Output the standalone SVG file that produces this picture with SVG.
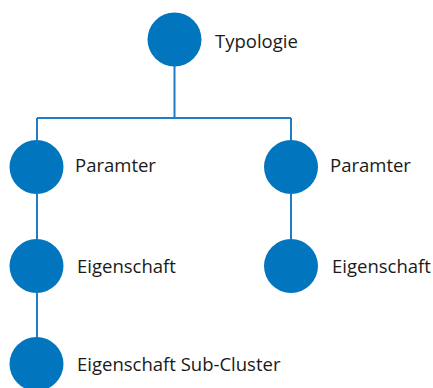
<svg xmlns="http://www.w3.org/2000/svg" width="433" height="388" viewBox="0 0 433 388">
<style>
.n{fill:#0275BF}
.t{font-family:"Open Sans","Liberation Sans",sans-serif;font-size:18.5px;fill:#1a1a1a}
.c{stroke:#1F7DC8;stroke-width:2;fill:none}
</style>
<rect width="433" height="388" fill="#fff"/>
<g id="connectors">
<path class="c" d="M174.5 66V118M37 118H291M37 118V140M291 118V140M37 194V239M291 194V239M37 293V337"/>
</g>
<g id="typologie"><circle class="n" cx="174.5" cy="39.5" r="27"/><text class="t" x="215" y="48">Typologie</text></g>
<g id="paramter-left"><circle class="n" cx="36.5" cy="167" r="27"/><text class="t" x="75" y="172">Paramter</text></g>
<g id="paramter-right"><circle class="n" cx="291" cy="167" r="27"/><text class="t" x="330" y="172">Paramter</text></g>
<g id="eigenschaft-left"><circle class="n" cx="36.5" cy="266" r="27"/><text class="t" x="77" y="273">Eigenschaft</text></g>
<g id="eigenschaft-right"><circle class="n" cx="291" cy="266" r="27"/><text class="t" x="332" y="273">Eigenschaft</text></g>
<g id="sub-cluster"><circle class="n" cx="36.5" cy="364" r="27"/><text class="t" x="77" y="371">Eigenschaft Sub-Cluster</text></g>
</svg>
